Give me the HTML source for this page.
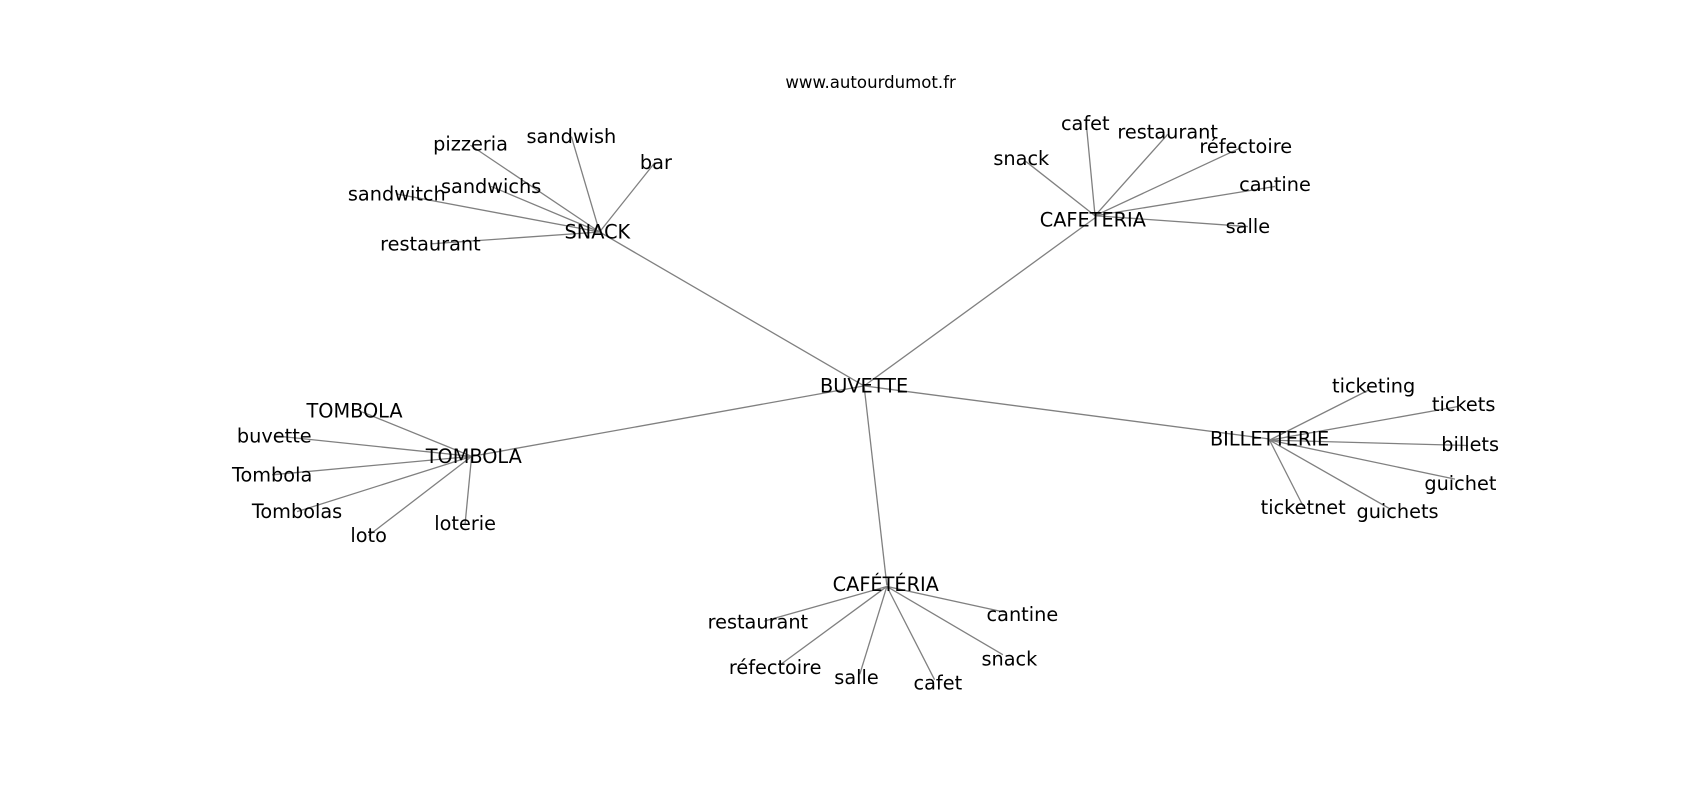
<!DOCTYPE html>
<html><head><meta charset="utf-8"><style>html,body{margin:0;padding:0;background:#fff}svg{display:block}</style></head>
<body>
<svg width="1700" height="800" viewBox="0 0 1568 738" preserveAspectRatio="none" xmlns="http://www.w3.org/2000/svg">
<rect width="1568" height="738" fill="#fff"/>
<g stroke="#808080" stroke-width="1.2" fill="none">
<line x1="797" y1="356" x2="553" y2="214"/>
<line x1="797" y1="356" x2="1010" y2="201"/>
<line x1="797" y1="356" x2="435" y2="421"/>
<line x1="797" y1="356" x2="1171" y2="405"/>
<line x1="797" y1="356" x2="818" y2="540"/>
<line x1="553" y1="214" x2="434" y2="134"/>
<line x1="553" y1="214" x2="527" y2="126"/>
<line x1="553" y1="214" x2="604" y2="150"/>
<line x1="553" y1="214" x2="453" y2="172"/>
<line x1="553" y1="214" x2="366" y2="179"/>
<line x1="553" y1="214" x2="397" y2="225"/>
<line x1="1010" y1="199" x2="945" y2="148"/>
<line x1="1010" y1="199" x2="1002" y2="115"/>
<line x1="1010" y1="199" x2="1077" y2="124"/>
<line x1="1010" y1="199" x2="1145" y2="136"/>
<line x1="1010" y1="199" x2="1176" y2="172"/>
<line x1="1010" y1="199" x2="1151" y2="209"/>
<line x1="435" y1="421" x2="334" y2="380"/>
<line x1="435" y1="421" x2="253" y2="402"/>
<line x1="435" y1="421" x2="251" y2="438"/>
<line x1="435" y1="421" x2="274" y2="472"/>
<line x1="435" y1="421" x2="340" y2="494"/>
<line x1="435" y1="421" x2="429" y2="483"/>
<line x1="1171" y1="406" x2="1262" y2="360"/>
<line x1="1171" y1="406" x2="1345" y2="375"/>
<line x1="1171" y1="406" x2="1354" y2="411"/>
<line x1="1171" y1="406" x2="1342" y2="442"/>
<line x1="1171" y1="406" x2="1202" y2="467"/>
<line x1="1171" y1="406" x2="1283" y2="470"/>
<line x1="818" y1="541" x2="705" y2="573"/>
<line x1="818" y1="541" x2="720" y2="613"/>
<line x1="818" y1="541" x2="793" y2="622"/>
<line x1="818" y1="541" x2="862" y2="627"/>
<line x1="818" y1="541" x2="925" y2="604"/>
<line x1="818" y1="541" x2="928" y2="565"/>
</g>
<g font-family="'DejaVu Sans', 'Liberation Sans', sans-serif" font-size="17.8" fill="#000" text-anchor="middle" dominant-baseline="central">
<text x="803" y="76" font-size="15.3">www.autourdumot.fr</text>
<text x="797" y="356">BUVETTE</text>
<text x="551" y="214">SNACK</text>
<text x="434" y="133">pizzeria</text>
<text x="527" y="126">sandwish</text>
<text x="605" y="150">bar</text>
<text x="453" y="172">sandwichs</text>
<text x="366" y="179">sandwitch</text>
<text x="397" y="225">restaurant</text>
<text x="1008" y="203">CAFETERIA</text>
<text x="942" y="146">snack</text>
<text x="1001" y="114">cafet</text>
<text x="1077" y="122">restaurant</text>
<text x="1149" y="135">réfectoire</text>
<text x="1176" y="170">cantine</text>
<text x="1151" y="209">salle</text>
<text x="437" y="421">TOMBOLA</text>
<text x="327" y="379">TOMBOLA</text>
<text x="253" y="402">buvette</text>
<text x="251" y="438">Tombola</text>
<text x="274" y="472">Tombolas</text>
<text x="340" y="494">loto</text>
<text x="429" y="483">loterie</text>
<text x="1171" y="405">BILLETTERIE</text>
<text x="1267" y="356">ticketing</text>
<text x="1350" y="373">tickets</text>
<text x="1356" y="410">billets</text>
<text x="1347" y="446">guichet</text>
<text x="1202" y="468">ticketnet</text>
<text x="1289" y="472">guichets</text>
<text x="817" y="539">CAFÉTÉRIA</text>
<text x="699" y="574">restaurant</text>
<text x="715" y="616">réfectoire</text>
<text x="790" y="625">salle</text>
<text x="865" y="630">cafet</text>
<text x="931" y="608">snack</text>
<text x="943" y="567">cantine</text>
</g>
</svg>
</body></html>
